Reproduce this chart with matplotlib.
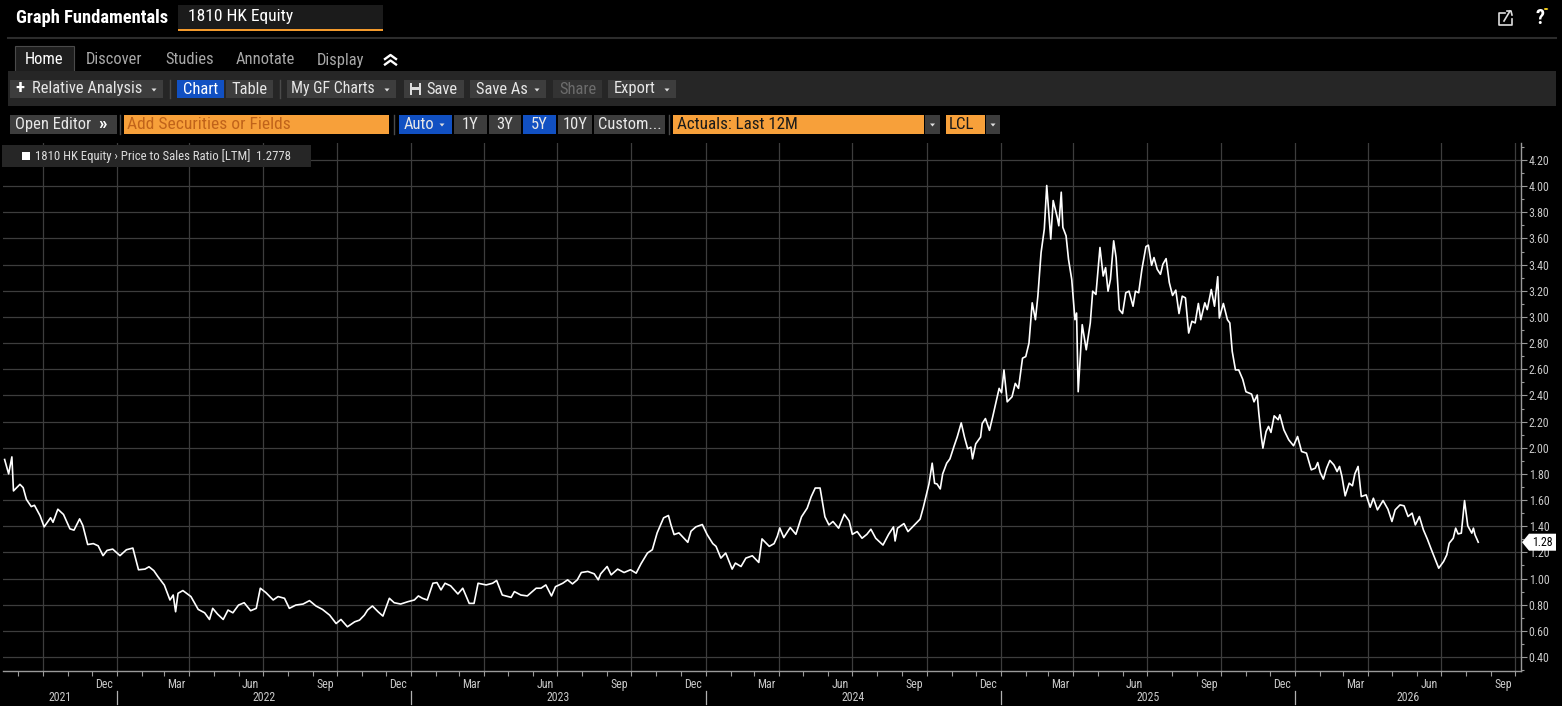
import datetime as dt
import matplotlib
matplotlib.use("Agg")
import matplotlib.pyplot as plt
import matplotlib.dates as mdates
import matplotlib.patches as mpatches
import matplotlib.transforms as mtransforms
from matplotlib.lines import Line2D
from matplotlib import font_manager
from matplotlib.ticker import MultipleLocator, FuncFormatter

# ---------------- data ----------------
dates = [
    "2021-08-15","2021-08-20","2021-08-24","2021-08-26","2021-09-03","2021-09-07","2021-09-11","2021-09-17",
    "2021-09-21","2021-09-28","2021-10-03","2021-10-11","2021-10-14","2021-10-20","2021-10-27","2021-11-04",
    "2021-11-09","2021-11-16","2021-11-20","2021-11-26","2021-12-03","2021-12-09","2021-12-15","2021-12-20",
    "2021-12-27","2022-01-05","2022-01-13","2022-01-21","2022-01-28","2022-02-05","2022-02-10","2022-02-16",
    "2022-02-21","2022-03-01","2022-03-08","2022-03-12","2022-03-15","2022-03-18","2022-03-24","2022-04-03",
    "2022-04-12","2022-04-20","2022-04-26","2022-04-30","2022-05-06","2022-05-13","2022-05-19","2022-05-25",
    "2022-06-01","2022-06-08","2022-06-16","2022-06-23","2022-06-28","2022-07-05","2022-07-14","2022-07-20",
    "2022-07-28","2022-08-03","2022-08-11","2022-08-20","2022-08-28","2022-09-05","2022-09-13","2022-09-22",
    "2022-09-30","2022-10-06","2022-10-14","2022-10-23","2022-10-29","2022-11-04","2022-11-08","2022-11-14",
    "2022-11-21","2022-11-27","2022-12-05","2022-12-11","2022-12-19",
    "2022-12-28","2023-01-05","2023-01-10","2023-01-15","2023-01-21","2023-01-28","2023-02-02","2023-02-07",
    "2023-02-12","2023-02-19","2023-02-28","2023-03-06","2023-03-14","2023-03-20","2023-03-25","2023-04-04",
    "2023-04-12","2023-04-17","2023-04-24","2023-05-05","2023-05-09","2023-05-17","2023-05-25","2023-06-05",
    "2023-06-11","2023-06-17","2023-06-24","2023-06-29","2023-07-08","2023-07-14","2023-07-20","2023-07-26",
    "2023-07-31","2023-08-08","2023-08-16","2023-08-21","2023-08-24","2023-09-01","2023-09-06","2023-09-14",
    "2023-09-22","2023-09-30","2023-10-07","2023-10-13","2023-10-21","2023-10-27","2023-11-02","2023-11-10",
    "2023-11-16","2023-11-19","2023-11-23","2023-11-29","2023-12-03","2023-12-10","2023-12-14","2023-12-20",
    "2023-12-28","2024-01-03","2024-01-10","2024-01-14","2024-01-20","2024-01-26","2024-02-03","2024-02-07",
    "2024-02-14","2024-02-20","2024-02-28","2024-03-07","2024-03-11","2024-03-20","2024-03-26","2024-03-30",
    "2024-04-02",
    "2024-04-07","2024-04-15","2024-04-22","2024-04-29","2024-05-06","2024-05-11","2024-05-16","2024-05-22",
    "2024-05-28","2024-06-02","2024-06-07","2024-06-14","2024-06-21","2024-06-27","2024-07-01","2024-07-07",
    "2024-07-13","2024-07-19","2024-07-24","2024-07-30","2024-08-08","2024-08-15","2024-08-21","2024-08-23",
    "2024-08-26","2024-09-03","2024-09-08","2024-09-15","2024-09-23","2024-09-27","2024-10-04","2024-10-08",
    "2024-10-11","2024-10-14","2024-10-18","2024-10-21","2024-10-26","2024-10-30","2024-11-04","2024-11-08",
    "2024-11-13",
    "2024-11-17","2024-11-21","2024-11-25","2024-11-27","2024-12-01","2024-12-07","2024-12-09","2024-12-13",
    "2024-12-18","2024-12-22","2024-12-30","2025-01-02","2025-01-05","2025-01-09","2025-01-15","2025-01-19",
    "2025-01-23","2025-01-28","2025-02-01","2025-02-05","2025-02-09","2025-02-13","2025-02-16","2025-02-20",
    "2025-02-24","2025-02-27","2025-03-04","2025-03-07","2025-03-12","2025-03-14","2025-03-17","2025-03-19",
    "2025-03-23","2025-03-26","2025-03-30","2025-04-03","2025-04-05","2025-04-07","2025-04-12","2025-04-17",
    "2025-04-22","2025-04-25","2025-04-29","2025-05-04","2025-05-08","2025-05-11","2025-05-14","2025-05-17",
    "2025-05-21","2025-05-24","2025-05-28","2025-06-01","2025-06-05","2025-06-09","2025-06-14","2025-06-17",
    "2025-06-21","2025-06-25","2025-06-30","2025-07-03","2025-07-07","2025-07-10","2025-07-14","2025-07-18",
    "2025-07-21","2025-07-25","2025-07-29","2025-08-02","2025-08-06","2025-08-10","2025-08-14","2025-08-18",
    "2025-08-22","2025-08-26","2025-08-30","2025-09-03","2025-09-06","2025-09-11","2025-09-14","2025-09-19",
    "2025-09-23","2025-09-27","2025-09-29","2025-10-04","2025-10-09","2025-10-12","2025-10-15","2025-10-19",
    "2025-10-23","2025-10-28","2025-11-01","2025-11-08","2025-11-11","2025-11-15","2025-11-17",
    "2025-11-20","2025-11-22","2025-11-26","2025-11-29","2025-12-02","2025-12-06","2025-12-11","2025-12-13",
    "2025-12-18","2025-12-24","2025-12-30","2026-01-04","2026-01-09","2026-01-15","2026-01-21","2026-01-26",
    "2026-01-29","2026-02-01","2026-02-05","2026-02-09","2026-02-13","2026-02-18","2026-02-22","2026-02-25",
    "2026-02-28","2026-03-04","2026-03-09","2026-03-13","2026-03-16","2026-03-20","2026-03-24","2026-03-30",
    "2026-04-04","2026-04-08","2026-04-13","2026-04-20","2026-04-26","2026-05-01","2026-05-05","2026-05-11",
    "2026-05-16","2026-05-21","2026-05-26","2026-05-30","2026-06-04","2026-06-09","2026-06-14","2026-06-19",
    "2026-06-24","2026-06-28","2026-07-04","2026-07-08","2026-07-11","2026-07-16","2026-07-19","2026-07-22",
    "2026-07-26","2026-07-30","2026-08-03","2026-08-08","2026-08-10","2026-08-12","2026-08-16",
]
ps_ratio = [
    1.91,1.80,1.93,1.67,1.72,1.695,1.605,1.55,
    1.56,1.48,1.395,1.465,1.43,1.53,1.49,1.38,
    1.37,1.456,1.405,1.26,1.267,1.25,1.175,1.215,
    1.225,1.175,1.22,1.233,1.067,1.072,1.09,1.06,
    1.015,0.95,0.836,0.874,0.746,0.887,0.908,0.862,
    0.764,0.738,0.687,0.772,0.728,0.687,0.759,0.738,
    0.797,0.815,0.754,0.772,0.926,0.892,0.836,0.862,
    0.849,0.772,0.797,0.805,0.831,0.79,0.764,0.72,
    0.656,0.687,0.631,0.669,0.682,0.72,0.759,0.79,
    0.746,0.713,0.849,0.815,0.805,
    0.823,0.836,0.867,0.849,0.836,0.964,0.969,0.913,
    0.964,0.944,0.882,0.926,0.81,0.81,0.964,0.951,
    0.964,0.985,0.874,0.856,0.90,0.874,0.867,0.926,
    0.926,0.951,0.867,0.938,0.964,0.99,0.959,0.99,
    1.046,1.054,1.036,0.99,1.036,1.092,1.028,1.072,
    1.046,1.067,1.041,1.113,1.195,1.22,1.349,1.464,
    1.482,1.413,1.336,1.349,1.323,1.277,1.362,1.395,
    1.413,1.336,1.267,1.246,1.156,1.195,1.072,1.118,
    1.092,1.156,1.174,1.123,1.303,1.246,1.267,1.323,
    1.387,
    1.313,1.39,1.338,1.472,1.538,1.626,1.692,1.692,
    1.472,1.41,1.436,1.385,1.492,1.441,1.338,1.359,
    1.308,1.338,1.377,1.308,1.256,1.338,1.395,1.287,
    1.385,1.42,1.359,1.403,1.454,1.544,1.723,1.882,
    1.728,1.723,1.685,1.80,1.882,1.915,2.01,2.082,
    2.19,
    2.082,1.992,2.005,1.915,2.03,2.082,2.185,2.223,
    2.133,2.236,2.454,2.421,2.595,2.351,2.39,2.492,
    2.454,2.685,2.697,2.80,3.108,2.979,3.159,3.492,
    3.672,4.005,3.595,3.89,3.762,3.697,3.954,3.685,
    3.62,3.441,3.287,2.979,3.03,2.428,2.941,2.749,
    2.954,3.197,3.172,3.531,3.313,3.377,3.197,3.287,
    3.582,3.454,3.056,3.026,3.185,3.197,3.082,3.197,
    3.185,3.364,3.538,3.549,3.395,3.454,3.364,3.326,
    3.403,3.446,3.262,3.164,3.205,3.026,3.159,3.146,
    2.877,2.967,2.954,3.103,2.979,3.108,3.056,3.21,
    3.082,3.308,2.992,3.103,2.979,2.954,2.736,2.595,
    2.595,2.523,2.428,2.41,2.351,2.403,2.262,
    2.086,1.997,2.124,2.163,2.117,2.244,2.214,2.252,
    2.137,2.061,2.015,2.086,1.971,1.959,1.831,1.844,
    1.887,1.811,1.76,1.844,1.903,1.869,1.818,1.857,
    1.78,1.632,1.729,1.709,1.80,1.857,1.627,1.64,
    1.545,1.614,1.525,1.596,1.53,1.436,1.525,1.563,
    1.556,1.474,1.50,1.41,1.474,1.372,1.30,1.219,
    1.142,1.079,1.13,1.181,1.27,1.308,1.385,1.341,
    1.347,1.596,1.403,1.347,1.385,1.334,1.2778,
]
month_labels = ["Dec", "Mar", "Jun", "Sep"]
label_months = [12, 3, 6, 9]
years = [2021, 2022, 2023, 2024, 2025, 2026]
series_name = "1810 HK Equity \u203a Price to Sales Ratio [LTM]"
last_value_text = "1.2778"

# ---------------- fonts ----------------
names = {f.name for f in font_manager.fontManager.ttflist}
FONT, STRETCH = "DejaVu Sans", "normal"
for cand in ["Liberation Sans Narrow", "Roboto Condensed", "Open Sans Condensed",
             "DejaVu Sans Condensed", "Noto Sans Condensed"]:
    if cand in names:
        FONT = cand
        break
else:
    if any(f.name == "DejaVu Sans" and f.stretch == "condensed" for f in font_manager.fontManager.ttflist):
        FONT, STRETCH = "DejaVu Sans", "condensed"
FAM = [FONT, "DejaVu Sans"]

W, H = 1562, 706
fig = plt.figure(figsize=(W / 100, H / 100), dpi=100, facecolor="black")

def px(x, y):
    return x / W, 1 - y / H

def box(x0, y0, x1, y1, fc, ec="none", lw=0, z=1):
    fig.patches.append(mpatches.Rectangle((x0 / W, 1 - y1 / H), (x1 - x0) / W, (y1 - y0) / H,
                                          transform=fig.transFigure, facecolor=fc, edgecolor=ec,
                                          linewidth=lw, zorder=z))

def hline(x0, x1, y, color, lw=1):
    fig.add_artist(Line2D([x0 / W, x1 / W], [1 - y / H, 1 - y / H], color=color, lw=lw,
                          transform=fig.transFigure))

def vline(x, y0, y1, color, lw=1):
    fig.add_artist(Line2D([x / W, x / W], [1 - y0 / H, 1 - y1 / H], color=color, lw=lw,
                          transform=fig.transFigure))

def T(x, y, s, size=14, color="#e6e6e6", ha="left", weight="normal"):
    fx, fy = px(x, y)
    fig.text(fx, fy, s, fontsize=size * 0.72, color=color, ha=ha, va="center",
             fontweight=weight, family=FAM, fontstretch=STRETCH, zorder=5)

def tri(xc, yc, color="#e0e0e0"):
    fig.patches.append(mpatches.Polygon([((xc - 2.5) / W, 1 - (yc - 1.5) / H),
                                         ((xc + 2.5) / W, 1 - (yc - 1.5) / H),
                                         (xc / W, 1 - (yc + 1.5) / H)], closed=True,
                                        transform=fig.transFigure, facecolor=color,
                                        edgecolor="none", zorder=6))

GRAY_BTN = "#3d3d3d"
BLUE = "#1150c2"
ORANGE = "#f7a03a"
FS = 16.5

# ---------------- header ----------------
T(16, 18, "Graph Fundamentals", 18.5, "white", weight="bold")
box(178, 5, 383, 31, "#1b1b1b")
box(178, 29, 383, 31, "#f39a2c", z=2)
T(188, 17, "1810 HK Equity", 17.5, "white")
# share icon
fig.add_artist(Line2D([1505 / W, 1499 / W, 1499 / W, 1512 / W, 1512 / W],
                      [1 - 13 / H, 1 - 13 / H, 1 - 25 / H, 1 - 25 / H, 1 - 19 / H],
                      color="#dddddd", lw=1.2, transform=fig.transFigure))
fig.add_artist(Line2D([1504 / W, 1510 / W], [1 - 21 / H, 1 - 11 / H], color="#dddddd", lw=1.2,
                      transform=fig.transFigure))
fig.add_artist(Line2D([1507 / W, 1511 / W, 1512 / W], [1 - 11 / H, 1 - 11 / H, 1 - 15 / H],
                      color="#dddddd", lw=1.2, transform=fig.transFigure))
T(1540, 19, "?", 20, "white", ha="center", weight="bold")
fig.patches.append(mpatches.Circle((1546 / W, 1 - 9 / H), 2.2 / W, transform=fig.transFigure,
                                   facecolor="#f5d020", edgecolor="none", zorder=6))
hline(8, 1556, 38, "#2c2c2c", 1.5)

# ---------------- tabs ----------------
box(15, 46, 74, 72, "#1e1e1e", ec="#4a4a4a", lw=0.8)
T(44.5, 60, "Home", FS, "white", ha="center")
for cx, s in [(114, "Discover"), (190, "Studies"), (265, "Annotate"), (341, "Display")]:
    T(cx, 60, s, FS, "#a8a8a8", ha="center")
for yy in (55, 60.5):
    fig.add_artist(Line2D([385 / W, 390.5 / W, 396 / W], [1 - (yy + 4) / H, 1 - yy / H, 1 - (yy + 4) / H],
                          color="white", lw=1.7, transform=fig.transFigure))

# ---------------- toolbar row 1 ----------------
box(8, 71, 1556, 106, "#262626")
r1 = [(10, 163, "Relative Analysis", GRAY_BTN, "#e6e6e6", True),
      (177, 224, "Chart", BLUE, "white", False),
      (226, 273, "Table", GRAY_BTN, "#e6e6e6", False),
      (287, 396, "My GF Charts", GRAY_BTN, "#e6e6e6", True),
      (404, 464, "Save", GRAY_BTN, "#e6e6e6", False),
      (470, 546, "Save As", GRAY_BTN, "#e6e6e6", True),
      (553, 602, "Share", "#333333", "#6c6c6c", False),
      (608, 676, "Export", GRAY_BTN, "#e6e6e6", True)]
for x0, x1, s, fc, tc, dd in r1:
    box(x0, 80, x1, 98, fc, z=2)
    if s == "Relative Analysis":
        T(15, 88.5, "+", 19, "white", weight="bold")
        T(32, 89, s, FS, tc)
    elif s == "Save":
        T(426, 89, s, FS, tc)
    elif s == "My GF Charts":
        T(x0 + 4, 89, s, 15.8, tc)
    elif dd:
        T(x0 + 6, 89, s, FS, tc)
    else:
        T((x0 + x1) / 2, 89, s, FS, tc, ha="center")
    if dd:
        tri(x1 - 9, 90)
# floppy icon
box(410, 83, 421, 95, "#dddddd", z=3)
box(412, 83, 419, 87, "#3d3d3d", z=4)
box(412, 90, 419, 95, "#3d3d3d", z=4)
for xs in (170, 280):
    vline(xs, 80, 98, "#4a4a4a", 1)

# ---------------- toolbar row 2 ----------------
box(10, 115, 117, 134, GRAY_BTN, z=2)
T(15, 124.5, "Open Editor", FS, "#e6e6e6")
T(102, 123.5, "\u00bb", 19, "white", ha="center", weight="bold")
vline(120, 115, 134, "#4a4a4a", 1)
box(124, 115, 389, 134, ORANGE, z=2)
T(127, 124.5, "Add Securities or Fields", 17.5, "#c0631a")
vline(394, 115, 134, "#4a4a4a", 1)
r2 = [(399, 452, "Auto", BLUE, True), (454, 487, "1Y", GRAY_BTN, False),
      (489, 521, "3Y", GRAY_BTN, False), (523, 556, "5Y", BLUE, False),
      (558, 592, "10Y", GRAY_BTN, False), (594, 665, "Custom...", GRAY_BTN, False)]
for x0, x1, s, fc, dd in r2:
    box(x0, 115, x1, 134, fc, z=2)
    if dd:
        T(x0 + 5, 124.5, s, FS, "#e8e8e8")
        tri(x1 - 10, 125)
    else:
        T((x0 + x1) / 2, 124.5, s, FS, "#e8e8e8", ha="center")
vline(669, 115, 134, "#4a4a4a", 1)
box(673, 115, 924, 134, ORANGE, z=2)
T(677, 124.5, "Actuals: Last 12M", 17, "#1a1a1a")
box(925, 115, 940, 134, GRAY_BTN, z=2)
tri(932.5, 125)
box(946, 115, 985, 134, ORANGE, z=2)
T(949, 124.5, "LCL", 17, "#1a1a1a")
box(986, 115, 1000, 134, GRAY_BTN, z=2)
tri(993, 125)

# ---------------- chart ----------------
ax = fig.add_axes([3 / W, 35 / H, 1518 / W, 528 / H])
ax.set_facecolor("black")
x = [dt.datetime.strptime(d, "%Y-%m-%d") for d in dates]
ax.plot(x, ps_ratio, color="white", lw=1.2, solid_joinstyle="round", zorder=3)

xmin, xmax = dt.datetime(2021, 8, 13), dt.datetime(2026, 10, 8)
ax.set_xlim(xmin, xmax)
ax.set_ylim(0.293, 4.33)

for side in ("left", "top"):
    ax.spines[side].set_visible(False)
for side in ("right", "bottom"):
    ax.spines[side].set_color("#9a9a9a")
    ax.spines[side].set_linewidth(1.0)

ax.yaxis.tick_right()
ax.yaxis.set_major_locator(MultipleLocator(0.2))
ax.yaxis.set_minor_locator(MultipleLocator(0.1))
ax.yaxis.set_major_formatter(FuncFormatter(lambda v, p: f"{v:.2f}"))
ax.tick_params(axis="y", which="major", length=4.5, width=0.8, color="#9a9a9a", pad=1,
               labelsize=8.6, labelcolor="#c8c8c8")
ax.tick_params(axis="y", which="minor", length=2.5, width=0.8, color="#9a9a9a")
for lab in ax.get_yticklabels():
    lab.set_family(FAM)
    lab.set_fontstretch(STRETCH)
ax.grid(True, axis="y", which="major", color="#3d3d3d", lw=0.9)

ax.xaxis.set_major_locator(mdates.MonthLocator(bymonth=[1, 4, 7, 10]))
ax.xaxis.set_minor_locator(mdates.MonthLocator())
ax.xaxis.set_major_formatter(FuncFormatter(lambda v, p: ""))
ax.tick_params(axis="x", which="both", length=3.5, width=0.8, color="#9a9a9a", direction="out")
ax.grid(True, axis="x", which="major", color="#3d3d3d", lw=0.9)

trans = mtransforms.blended_transform_factory(ax.transData, ax.transAxes)
for yr in years:
    for mon, lab in zip(label_months, month_labels):
        mid = dt.datetime(yr, mon, 16)
        if dt.datetime(2021, 11, 1) <= mid <= xmax:
            ax.text(mid, -0.025, lab, transform=trans, ha="center", va="center", fontsize=8.6,
                    color="#c8c8c8", family=FAM, fontstretch=STRETCH, clip_on=False)
    a = max(dt.datetime(yr, 1, 1), xmin)
    b = min(dt.datetime(yr + 1, 1, 1), xmax)
    mid = a + (b - a) / 2
    ax.text(mid, -0.051, str(yr), transform=trans, ha="center", va="center", fontsize=8.6,
            color="#c8c8c8", family=FAM, fontstretch=STRETCH, clip_on=False)
    if yr > years[0]:
        ax.plot([dt.datetime(yr, 1, 1)] * 2, [-0.037, -0.062], transform=trans, color="#b0b0b0",
                lw=0.9, clip_on=False)

# legend box
box(2, 145, 311, 167, "#262626", z=4)
box(22, 152, 30, 160, "white", z=5)
T(35, 156, f"{series_name}  {last_value_text}", 12.8, "#dcdcdc")

# last value tag
fig.canvas.draw()
yv = ax.transData.transform((mdates.date2num(x[-1]), ps_ratio[-1]))[1]
xr = ax.transAxes.transform((1, 0))[0]
tag = mpatches.Polygon([(xr + 1, yv), (xr + 8, yv + 8.5), (xr + 35, yv + 8.5),
                        (xr + 35, yv - 8.5), (xr + 8, yv - 8.5)], closed=True,
                       transform=mtransforms.IdentityTransform(), facecolor="white",
                       edgecolor="none", zorder=10)
fig.patches.append(tag)
fig.text((xr + 21.5) / W, yv / H, f"{ps_ratio[-1]:.2f}", fontsize=8.6, color="black",
         ha="center", va="center", family=FAM, fontstretch=STRETCH, zorder=11)

fig.savefig("out.png", dpi=100, facecolor="black")
